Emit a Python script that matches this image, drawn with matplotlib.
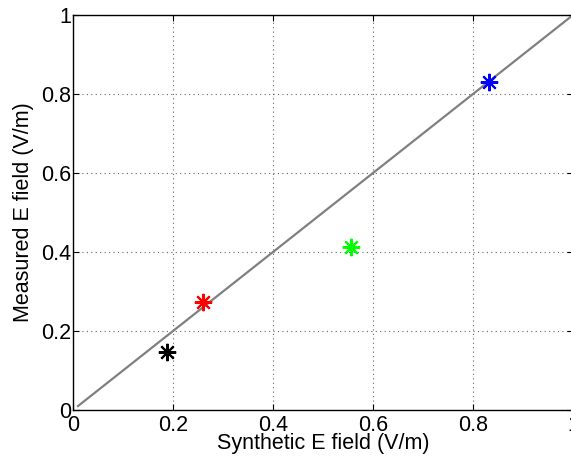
import matplotlib
matplotlib.use('Agg')
import matplotlib.pyplot as plt

# Campo sintético vs medido (V/m)
synthetic = [0.188, 0.259, 0.555, 0.832]
measured = [0.147, 0.274, 0.413, 0.831]
colors = ['black', 'red', '#00ff00', 'blue']

# línea de referencia y = x
ref_line = [0.01, 1.0]

ticks = [0, 0.2, 0.4, 0.6, 0.8, 1]
tick_labels = ['0', '0.2', '0.4', '0.6', '0.8', '1']

plt.rcParams['font.family'] = ['Liberation Sans', 'DejaVu Sans']

fig = plt.figure(figsize=(5.71, 4.63), dpi=100)
ax = fig.add_axes([73 / 571, 53 / 463, 500 / 571, 395 / 463])

ax.plot(ref_line, ref_line, color='0.5', linewidth=1.6, zorder=2)
for x, y, c in zip(synthetic, measured, colors):
    ax.plot(x, y, linestyle='none', marker=(8, 2, 0), markersize=12.5,
            markeredgewidth=1.5, color=c, zorder=3)

ax.set_xlim(0, 1)
ax.set_ylim(0, 1)
ax.set_xticks(ticks)
ax.set_xticklabels(tick_labels)
ax.set_yticks(ticks)
ax.set_yticklabels(tick_labels)
ax.grid(True, linestyle=(0, (1, 3)), color='0.4', linewidth=0.8)
ax.set_axisbelow(True)
ax.tick_params(direction='in', length=4, width=0.8, labelsize=15.5,
               top=True, right=True, pad=1.5)
ax.tick_params(axis='x', pad=3.5)
for s in ax.spines.values():
    s.set_linewidth(1.0)

ax.set_xlabel('Synthetic E field (V/m)', fontsize=15.5, labelpad=-2)
ax.set_ylabel('Measured E field (V/m)', fontsize=15.5, labelpad=5)

fig.savefig('out.png', dpi=100)
